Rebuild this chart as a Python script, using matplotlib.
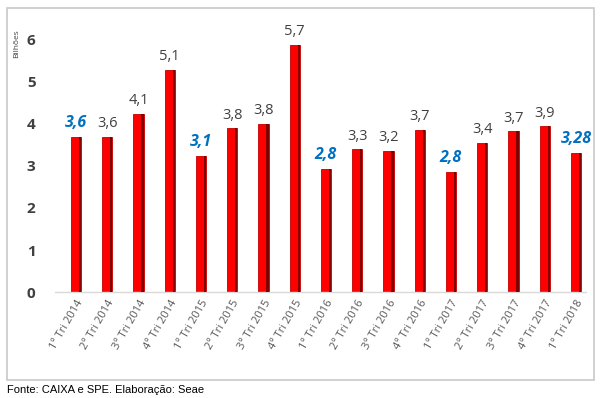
import matplotlib
matplotlib.use("Agg")
import matplotlib.pyplot as plt
from matplotlib.patches import Rectangle
import numpy as np

plt.rcParams['font.family'] = ['Open Sans', 'DejaVu Sans']

# dados
categorias = ['1º Tri 2014', '2º Tri 2014', '3º Tri 2014', '4º Tri 2014',
              '1º Tri 2015', '2º Tri 2015', '3º Tri 2015', '4º Tri 2015',
              '1º Tri 2016', '2º Tri 2016', '3º Tri 2016', '4º Tri 2016',
              '1º Tri 2017', '2º Tri 2017', '3º Tri 2017', '4º Tri 2017',
              '1º Tri 2018']
alturas = [3.69, 3.69, 4.24, 5.29, 3.24, 3.90, 4.00, 5.88,
           2.93, 3.40, 3.36, 3.86, 2.86, 3.55, 3.83, 3.95, 3.31]
rotulos = ['3,6', '3,6', '4,1', '5,1', '3,1', '3,8', '3,8', '5,7',
           '2,8', '3,3', '3,2', '3,7', '2,8', '3,4', '3,7', '3,9', '3,28']
destaque = [True, False, False, False, True, False, False, False,
            True, False, False, False, True, False, False, False, True]

fig = plt.figure(figsize=(6, 3.98), dpi=100)
ax = fig.add_axes([0.0917, 0.2663, 0.885, 0.665])

x = np.arange(len(categorias))
largura = 0.33
ax.bar(x, alturas, width=largura, color='#ff0000', edgecolor='#c00000', linewidth=0.6, zorder=2)
# sombra escura do lado direito
ax.bar(x + largura / 2 - 0.035, alturas, width=0.07, color='#800000', linewidth=0, zorder=3)

for xi, h, r, d in zip(x, alturas, rotulos, destaque):
    if d:
        ax.annotate(r, (xi, h), xytext=(0, 4), textcoords='offset points',
                    ha='center', va='bottom', fontsize=11.5, fontweight='bold',
                    fontstyle='italic', color='#0070c0')
    else:
        ax.annotate(r, (xi, h), xytext=(0, 4), textcoords='offset points',
                    ha='center', va='bottom', fontsize=10.5, color='#404040')

ax.set_xlim(-0.67, 16.32)
ax.set_ylim(0, 6.3)
ax.set_yticks(range(7))
ax.set_yticklabels([str(i) for i in range(7)], fontsize=11, fontweight='bold', color='#404040')
ax.set_xticks(x)
ax.set_xticklabels(categorias, rotation=60, ha='right', rotation_mode='anchor',
                   fontsize=8, color='#595959')
ax.tick_params(axis='both', length=0)
ax.tick_params(axis='y', pad=14)
ax.tick_params(axis='x', pad=4)
for s in ['top', 'right', 'left']:
    ax.spines[s].set_visible(False)
ax.spines['bottom'].set_color('#d9d9d9')
ax.spines['bottom'].set_linewidth(1)

fig.text(0.027, 0.89, 'Bilhões', rotation=90, fontsize=6, color='#404040', ha='center', va='center')

# moldura
fig.patches.append(Rectangle((7 / 600, 1 - 380 / 398), 587 / 600, 372 / 398,
                             transform=fig.transFigure, fill=False,
                             edgecolor='#c8c8c8', linewidth=1.2))
fig.text(7 / 600, 1 - 390 / 398, 'Fonte: CAIXA e SPE. Elaboração: Seae',
         fontsize=8, family=['Liberation Sans', 'DejaVu Sans'], va='center', ha='left')

fig.savefig('out.png', dpi=100)
